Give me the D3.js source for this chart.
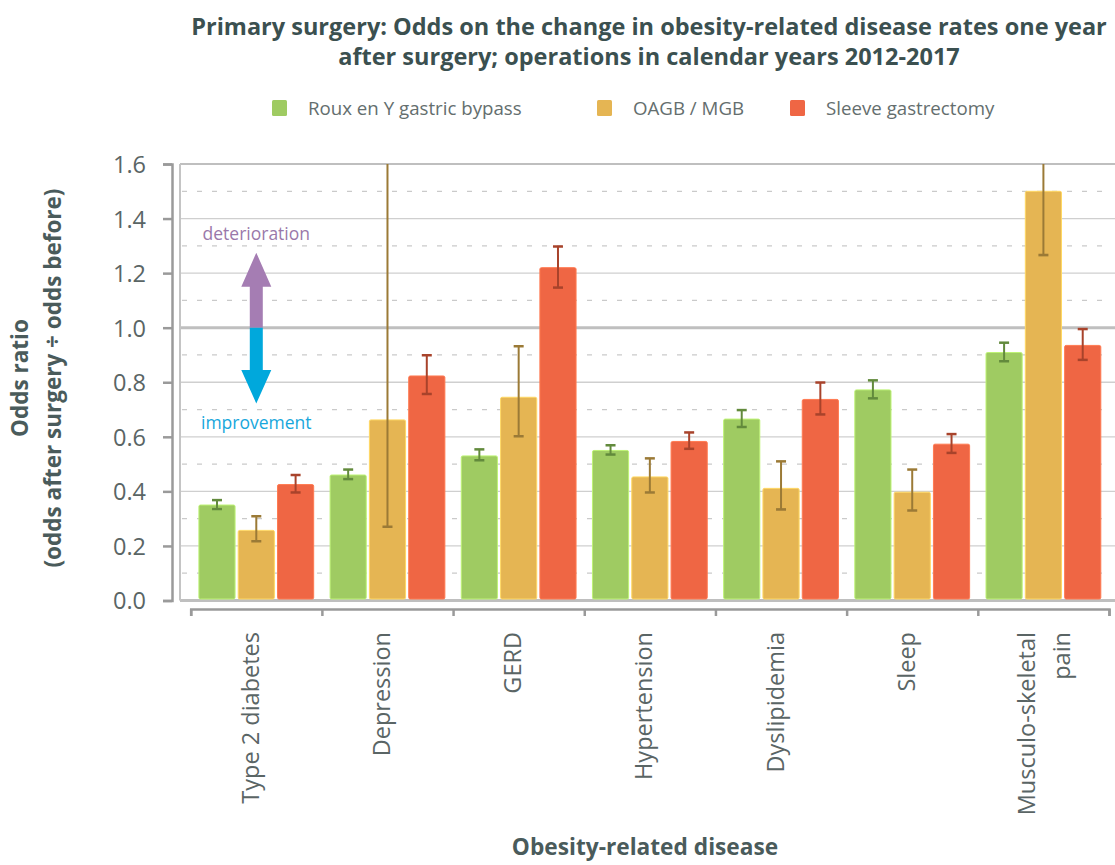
<!DOCTYPE html>
<html lang="en">
<head>
  <meta charset="UTF-8">
  <title>Odds ratio chart</title>
  <style>
    body { margin: 0; background: #fff; }
    svg text { font-family: "Open Sans", "Noto Sans", sans-serif; }
  </style>
</head>
<body>
  <svg id="chart"></svg>

  <script src="https://d3js.org/d3.v7.min.js"></script>
  <script>
    // ---- data ----
    var diseases = ['Type 2 diabetes', 'Depression', 'GERD', 'Hypertension', 'Dyslipidemia', 'Sleep', 'Musculo-skeletal pain'];
    var seriesNames = ['Roux en Y gastric bypass', 'OAGB / MGB', 'Sleeve gastrectomy'];

    var rygbOR  = [0.35, 0.46, 0.53, 0.55, 0.665, 0.772, 0.909];
    var rygbLo  = [0.335, 0.445, 0.514, 0.535, 0.636, 0.741, 0.877];
    var rygbHi  = [0.368, 0.48, 0.554, 0.569, 0.698, 0.807, 0.945];

    var oagbOR  = [0.257, 0.662, 0.745, 0.453, 0.411, 0.397, 1.50];
    var oagbLo  = [0.217, 0.27, 0.602, 0.396, 0.334, 0.33, 1.266];
    var oagbHi  = [0.309, 1.80, 0.932, 0.521, 0.51, 0.48, 1.75];

    var sleeveOR = [0.425, 0.823, 1.22, 0.583, 0.737, 0.573, 0.935];
    var sleeveLo = [0.396, 0.757, 1.147, 0.556, 0.682, 0.541, 0.882];
    var sleeveHi = [0.46, 0.899, 1.298, 0.616, 0.799, 0.61, 0.995];

    var yTicks = [0, 0.2, 0.4, 0.6, 0.8, 1.0, 1.2, 1.4, 1.6];

    var barColors = ['#9fcb62', '#e5b553', '#ef6644'];
    var errColors = ['#628a3c', '#9b7a36', '#a8432b'];

    // build rows
    var seriesData = [
      { or: rygbOR, lo: rygbLo, hi: rygbHi },
      { or: oagbOR, lo: oagbLo, hi: oagbHi },
      { or: sleeveOR, lo: sleeveLo, hi: sleeveHi }
    ];
    var rows = [];
    diseases.forEach(function (d, i) {
      seriesData.forEach(function (s, j) {
        rows.push({ disease: d, series: seriesNames[j], idx: j, or: s.or[i], lo: s.lo[i], hi: s.hi[i] });
      });
    });

    // ---- layout ----
    var W = 1115, H = 865;
    var plotL = 180, plotR = 1115, plotT = 164, plotB = 600.5;
    var axisX0 = 190.7, axisX1 = 1109;

    var svg = d3.select('#chart').attr('width', W).attr('height', H);

    var y = d3.scaleLinear().domain([0, 1.6]).range([plotB, plotT]);

    var x0 = d3.scaleBand()
      .domain(diseases)
      .range([axisX0, axisX1])
      .paddingInner(0.125)
      .paddingOuter(0.0625);

    var x1 = d3.scaleBand()
      .domain(seriesNames)
      .range([0, x0.bandwidth()])
      .paddingInner(0.08);

    // ---- gridlines ----
    var grid = svg.append('g');
    var halfTicks = d3.range(0.1, 1.6, 0.2);
    grid.selectAll('line.dash')
      .data(halfTicks)
      .enter()
      .append('line')
      .attr('x1', plotL + 2).attr('x2', 1107)
      .attr('y1', function (d) { return y(d); })
      .attr('y2', function (d) { return y(d); })
      .attr('stroke', '#cacaca')
      .attr('stroke-width', 1.3)
      .attr('stroke-dasharray', '5,10');

    grid.selectAll('line.solid')
      .data(yTicks)
      .enter()
      .append('line')
      .attr('x1', plotL).attr('x2', plotR)
      .attr('y1', function (d) { return y(d); })
      .attr('y2', function (d) { return y(d); })
      .attr('stroke', function (d) { return (d === 1.0 || d === 0 || d === 1.6) ? '#bfbfbf' : '#cfcfcf'; })
      .attr('stroke-width', function (d) {
        if (d === 1.0 || d === 0) return 3;
        if (d === 1.6) return 2;
        return 1.3;
      });

    // left frame
    grid.append('line')
      .attr('x1', plotL).attr('x2', plotL)
      .attr('y1', plotT).attr('y2', plotB)
      .attr('stroke', '#c4c4c4')
      .attr('stroke-width', 2);

    // ---- annotation arrows ----
    var arrowX = x0(diseases[0]) + x1(seriesNames[1]) + x1.bandwidth() / 2;
    var shaftW = 13, headW = 30;
    function arrowPath(from, base, tip) {
      var yf = y(from), yb = y(base), yt = y(tip);
      return 'M' + (arrowX - shaftW / 2) + ',' + yf +
        'L' + (arrowX - shaftW / 2) + ',' + yb +
        'L' + (arrowX - headW / 2) + ',' + yb +
        'L' + arrowX + ',' + yt +
        'L' + (arrowX + headW / 2) + ',' + yb +
        'L' + (arrowX + shaftW / 2) + ',' + yb +
        'L' + (arrowX + shaftW / 2) + ',' + yf + 'Z';
    }
    svg.append('path').attr('d', arrowPath(1.0, 1.15, 1.275)).attr('fill', '#a57db3');
    svg.append('path').attr('d', arrowPath(1.0, 0.845, 0.722)).attr('fill', '#00a8dc');

    svg.append('text')
      .attr('x', arrowX).attr('y', y(1.323))
      .attr('text-anchor', 'middle')
      .attr('font-size', 17.5)
      .attr('fill', '#9a78aa')
      .text('deterioration');

    svg.append('text')
      .attr('x', arrowX).attr('y', y(0.63))
      .attr('text-anchor', 'middle')
      .attr('font-size', 17.5)
      .attr('fill', '#17a7dc')
      .text('improvement');

    // ---- bars ----
    svg.append('defs').append('clipPath').attr('id', 'plotclip')
      .append('rect')
      .attr('x', plotL).attr('y', plotT)
      .attr('width', plotR - plotL).attr('height', plotB - plotT);

    var bars = svg.append('g');
    bars.selectAll('rect')
      .data(rows)
      .enter()
      .append('rect')
      .attr('x', function (d) { return x0(d.disease) + x1(d.series); })
      .attr('y', function (d) { return y(d.or); })
      .attr('width', x1.bandwidth())
      .attr('height', function (d) { return plotB - 1.5 - y(d.or); })
      .attr('rx', 1.5)
      .attr('fill', function (d) { return barColors[d.idx]; })
      .attr('stroke', function (d) { return d3.color(barColors[d.idx]).brighter(0.5); })
      .attr('stroke-width', 1);

    // ---- error bars ----
    var err = svg.append('g').attr('clip-path', 'url(#plotclip)');
    var capW = 10;
    var eg = err.selectAll('g')
      .data(rows)
      .enter()
      .append('g')
      .attr('stroke', function (d) { return errColors[d.idx]; });

    function cx(d) { return x0(d.disease) + x1(d.series) + x1.bandwidth() / 2; }

    eg.append('line')
      .attr('x1', cx).attr('x2', cx)
      .attr('y1', function (d) { return y(d.lo); })
      .attr('y2', function (d) { return y(d.hi); })
      .attr('stroke-width', 2);
    eg.append('line')
      .attr('x1', function (d) { return cx(d) - capW / 2; })
      .attr('x2', function (d) { return cx(d) + capW / 2; })
      .attr('y1', function (d) { return y(d.hi); })
      .attr('y2', function (d) { return y(d.hi); })
      .attr('stroke-width', 2.5);
    eg.append('line')
      .attr('x1', function (d) { return cx(d) - capW / 2; })
      .attr('x2', function (d) { return cx(d) + capW / 2; })
      .attr('y1', function (d) { return y(d.lo); })
      .attr('y2', function (d) { return y(d.lo); })
      .attr('stroke-width', 2.5);

    // ---- y axis ----
    var yAxis = d3.axisLeft(y)
      .tickValues(yTicks)
      .tickSize(9)
      .tickPadding(17)
      .tickFormat(d3.format('.1f'));

    var gy = svg.append('g')
      .attr('transform', 'translate(172,0)')
      .call(yAxis);
    gy.select('.domain').attr('stroke', '#9a9a9a').attr('stroke-width', 2.5);
    gy.selectAll('.tick line').attr('stroke', '#9a9a9a').attr('stroke-width', 2.5);
    gy.selectAll('.tick text')
      .attr('font-size', 23.5)
      .attr('fill', '#5a6565')
      .attr('font-family', '"Open Sans", sans-serif')
      .attr('dy', '0.36em');

    // ---- x axis (ticks at band edges) ----
    var xEdge = d3.scaleLinear().domain([0, diseases.length]).range([axisX0, axisX1]);
    var gx = svg.append('g')
      .attr('transform', 'translate(0,609)')
      .call(d3.axisBottom(xEdge).tickValues(d3.range(0, diseases.length + 1)).tickSize(7).tickSizeOuter(7).tickFormat(''));
    gx.select('.domain').attr('stroke', '#9a9a9a').attr('stroke-width', 2.5);
    gx.selectAll('.tick line').attr('stroke', '#9a9a9a').attr('stroke-width', 2.5);

    var labelLines = {
      'Musculo-skeletal pain': ['Musculo-skeletal', 'pain']
    };
    var xl = svg.append('g');
    diseases.forEach(function (d) {
      var c = x0(d) + x0.bandwidth() / 2;
      var lines = labelLines[d] || [d];
      var offs = lines.length === 1 ? [-6] : [-16.5, 18.5];
      lines.forEach(function (t, k) {
        xl.append('text')
          .attr('transform', 'translate(' + (c + offs[k]) + ',632) rotate(-90)')
          .attr('text-anchor', 'end')
          .attr('dy', '0.36em')
          .attr('font-size', 23.5)
          .attr('fill', '#5a6565')
          .text(t);
      });
    });

    // ---- axis titles ----
    var yt = svg.append('text')
      .attr('transform', 'translate(28,378) rotate(-90)')
      .attr('text-anchor', 'middle')
      .attr('font-size', 22.5)
      .attr('font-weight', 700)
      .attr('fill', '#4a5b5b');
    yt.append('tspan').attr('x', 0).attr('dy', 0).text('Odds ratio');
    yt.append('tspan').attr('x', 0).attr('dy', 33).text('(odds after surgery \u00f7 odds before)');

    svg.append('text')
      .attr('x', 645).attr('y', 855)
      .attr('text-anchor', 'middle')
      .attr('font-size', 22.7)
      .attr('font-weight', 700)
      .attr('fill', '#4a5b5b')
      .text('Obesity-related disease');

    // ---- title ----
    var title = svg.append('text')
      .attr('text-anchor', 'middle')
      .attr('font-size', 23.5)
      .attr('font-weight', 700)
      .attr('fill', '#3b5050');
    title.append('tspan').attr('x', 649).attr('y', 35)
      .text('Primary surgery: Odds on the change in obesity-related disease rates one year');
    title.append('tspan').attr('x', 649).attr('y', 65)
      .text('after surgery; operations in calendar years 2012-2017');

    // ---- legend ----
    var legendX = [272, 597, 790];
    var lg = svg.append('g').selectAll('g')
      .data(seriesNames)
      .enter()
      .append('g')
      .attr('transform', function (d, i) { return 'translate(' + legendX[i] + ',100)'; });
    lg.append('rect')
      .attr('width', 15).attr('height', 16).attr('rx', 1.5)
      .attr('fill', function (d, i) { return barColors[i]; });
    lg.append('text')
      .attr('x', 36).attr('y', 14.5)
      .attr('font-size', 18.7)
      .attr('fill', '#646e6e')
      .text(function (d) { return d; });
  </script>
</body>
</html>
